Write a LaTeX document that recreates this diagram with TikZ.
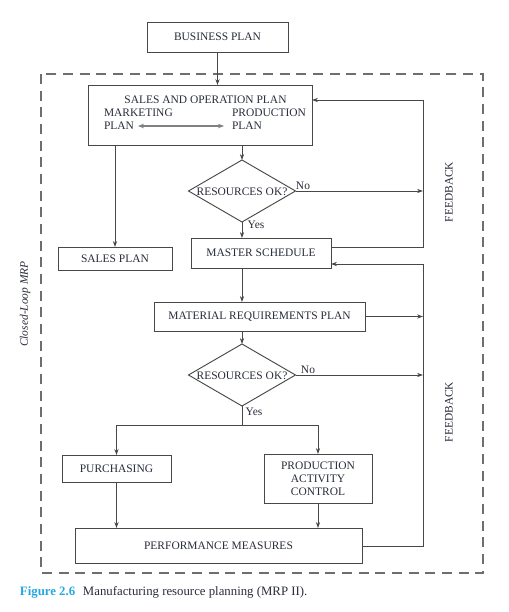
\documentclass[tikz,border=0pt]{standalone}
\usepackage{fontspec}
\setmainfont{Liberation Serif}
\usetikzlibrary{arrows.meta,shapes.geometric}
\definecolor{ink}{RGB}{40,44,58}
\definecolor{ln}{RGB}{72,72,72}
\definecolor{frame}{RGB}{110,110,110}
\definecolor{capc}{RGB}{38,168,224}
\begin{document}
\begin{tikzpicture}[x=0.75pt,y=-0.75pt,
  every node/.style={text=ink, font=\fontsize{8.6}{10.2}\selectfont},
  box/.style={draw=ln, line width=0.7pt, inner sep=0pt, outer sep=0pt, align=center},
  dia/.style={draw=ln, line width=0.7pt, diamond, inner sep=0pt, outer sep=0pt},
  plain/.style={inner sep=0pt, outer sep=0pt},
  arr/.style={draw=ln, line width=0.7pt, -{Stealth[length=4.5pt,width=3.2pt]}},
  lin/.style={draw=ln, line width=0.7pt},
  dbl/.style={draw=gray, line width=1.1pt, {Stealth[length=4.5pt,width=3.4pt]}-{Stealth[length=4.5pt,width=3.4pt]}},
  fb/.style={rotate=90, plain},
  lbl/.style={plain}]
\useasboundingbox (0,0) rectangle (509,612);

% dashed frame
\draw[frame, line width=0.9pt, dash pattern=on 7.5pt off 5pt] (41,74) rectangle (483,573);

% boxes
\node[box, minimum width=105.75pt, minimum height=22.5pt] (bp) at (217.5,37) {BUSINESS PLAN};
\node[box, minimum width=168pt, minimum height=45pt] (sop) at (200,115) {};
\node[plain] (sopt) at (205.5,100) {SALES AND OPERATION PLAN};
\node[plain, anchor=west] (mk) at (104,113) {MARKETING};
\node[plain, anchor=west] (mkp) at (104,126) {PLAN};
\node[plain, anchor=west] (pp) at (232,113) {PRODUCTION};
\node[plain, anchor=west] (ppp) at (232,126) {PLAN};
\node[box, minimum width=85.5pt, minimum height=17.25pt] (sales) at (115,258.5) {SALES PLAN};
\node[dia, minimum width=80.25pt, minimum height=46.5pt] (d1) at (242,191) {};
\node[plain] (d1t) at (242,192) {RESOURCES OK?};
\node[box, minimum width=105pt, minimum height=22.5pt] (ms) at (261,253) {MASTER SCHEDULE};
\node[box, minimum width=158.25pt, minimum height=21.75pt] (mrp) at (259.5,316.5) {MATERIAL REQUIREMENTS PLAN};
\node[dia, minimum width=80.25pt, minimum height=46.5pt] (d2) at (242,375) {};
\node[plain] (d2t) at (242,376) {RESOURCES OK?};
\node[box, minimum width=81.75pt, minimum height=20.25pt] (pur) at (116.5,468.5) {PURCHASING};
\node[box, minimum width=81pt, minimum height=36.75pt] (pac) at (318,478.5) {PRODUCTION\\[-0.5pt]ACTIVITY\\[-0.5pt]CONTROL};
\node[box, minimum width=215.25pt, minimum height=26.25pt] (pm) at (218.5,545.5) {PERFORMANCE MEASURES};

% labels
\node[lbl] (no1) at (303,186) {No};
\node[lbl] (yes1) at (256,225) {Yes};
\node[lbl] (no2) at (308,370) {No};
\node[lbl] (yes2) at (254,412) {Yes};
\node[fb] (fbt1) at (449,192) {FEEDBACK};
\node[fb] (fbt2) at (449,412) {FEEDBACK};
\node[fb, font=\fontsize{8.6}{10}\selectfont\itshape] (clm) at (25,304) {Closed-Loop MRP};

% feedback coordinates
\coordinate (fbA) at (423,100);
\coordinate (fbB) at (423,247);
\coordinate (fbC) at (423,264);
\coordinate (fbD) at (423,546);
\coordinate (j) at (242,425);

% connectors
\draw[arr] (bp.south) -- (bp.south |- sop.north);
\draw[dbl, shorten <=3pt, shorten >=6pt] (mkp.east) -- (ppp.west);
\draw[arr] (d1.north |- sop.south) -- (d1.north);
\draw[arr] (sales.north |- sop.south) -- (sales.north);
\draw[arr] (d1.south) -- (d1.south |- ms.north);
\draw[arr] (d1.east) -- (d1.east -| fbA);
\draw[arr] (ms.east |- fbB) -- (fbB) -- (fbA) -- (sop.east |- fbA);
\draw[arr] (pm.east |- fbD) -- (fbD) -- (fbC) -- (ms.east |- fbC);
\draw[arr] (d1.south |- ms.south) -- (d1.south |- mrp.north);
\draw[arr] (mrp.east) -- (mrp.east -| fbC);
\draw[arr] (d2.north |- mrp.south) -- (d2.north);
\draw[arr] (d2.east) -- (d2.east -| fbC);
\draw[lin] (d2.south) -- (j);
\draw[arr] (j) -| (pur.north);
\draw[arr] (j) -| (pac.north);
\draw[arr] (pur.south) -- (pur.south |- pm.north);
\draw[arr] (pac.south) -- (pac.south |- pm.north);

% caption
\node[plain, anchor=west, text=capc, font=\fontsize{9.6}{11}\selectfont\bfseries] (capn) at (20,592) {Figure 2.6};
\node[plain, anchor=west, text=ink, font=\fontsize{9.6}{11}\selectfont] (capt) at (83,592) {Manufacturing resource planning (MRP II).};
\end{tikzpicture}
\end{document}
